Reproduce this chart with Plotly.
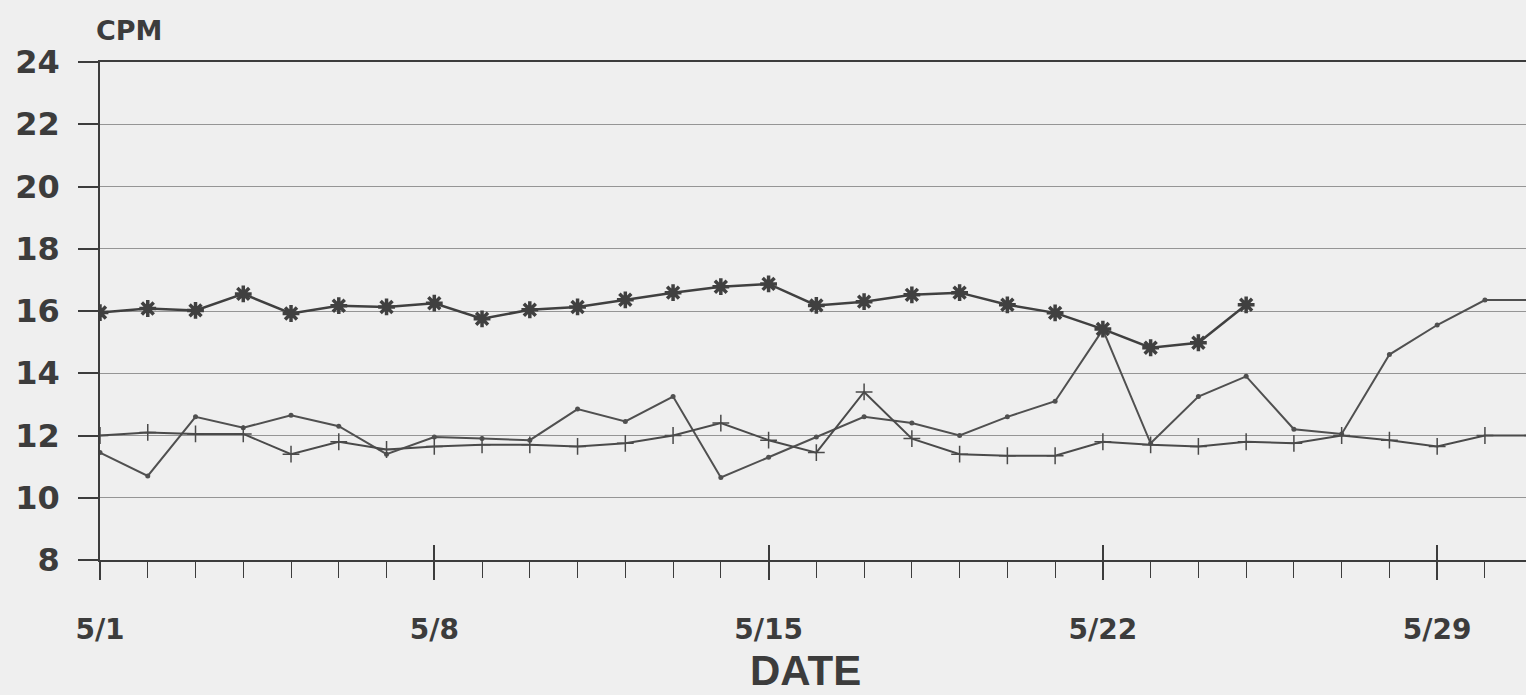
import plotly.graph_objects as go

# ---- data (day of May) ----
days = [1, 2, 3, 4, 5, 6, 7, 8, 9, 10, 11, 12, 13, 14, 15, 16, 17, 18, 19, 20,
        21, 22, 23, 24, 25, 26, 27, 28, 29, 30, 31]
star_days = [1, 2, 3, 4, 5, 6, 7, 8, 9, 10, 11, 12, 13, 14, 15, 16, 17, 18, 19, 20,
             21, 22, 23, 24, 25]
star_vals = [15.95, 16.08, 16.02, 16.55, 15.92, 16.17, 16.13, 16.25, 15.75, 16.04,
             16.13, 16.36, 16.59, 16.78, 16.87, 16.18, 16.30, 16.52, 16.59, 16.20,
             15.94, 15.42, 14.82, 14.98, 16.20]
plus_vals = [12.0, 12.1, 12.05, 12.05, 11.4, 11.8, 11.55, 11.65, 11.7, 11.7,
             11.65, 11.75, 12.0, 12.4, 11.85, 11.45, 13.4, 11.9, 11.4, 11.35,
             11.35, 11.8, 11.7, 11.65, 11.8, 11.75, 12.0, 11.85, 11.65, 12.0, 12.0]
var_vals = [11.45, 10.7, 12.6, 12.25, 12.65, 12.3, 11.4, 11.95, 11.9, 11.85,
            12.85, 12.45, 13.25, 10.65, 11.3, 11.95, 12.6, 12.4, 12.0, 12.6,
            13.1, 15.4, 11.75, 13.25, 13.9, 12.2, 12.05, 14.6, 15.55, 16.35, 16.35]
major_days = [1, 8, 15, 22, 29]
major_labels = ["5/1", "5/8", "5/15", "5/22", "5/29"]
y_ticks = [8, 10, 12, 14, 16, 18, 20, 22, 24]

INK = "#3c3c3c"
BG = "#efefef"
XR = [1, 30.86]

fig = go.Figure()
fig.add_trace(go.Scatter(x=days, y=var_vals, mode="lines+markers",
                         line=dict(color="#505050", width=2),
                         marker=dict(symbol="circle", size=5, color="#505050"),
                         showlegend=False))
fig.add_trace(go.Scatter(x=days, y=plus_vals, mode="lines+markers",
                         line=dict(color="#4a4a4a", width=2),
                         marker=dict(symbol="cross-thin-open", size=12,
                                     line=dict(color="#4a4a4a", width=1.5)),
                         showlegend=False))
fig.add_trace(go.Scatter(x=star_days, y=star_vals, mode="lines+markers",
                         line=dict(color="#404040", width=2.5),
                         marker=dict(symbol="asterisk-open", size=14,
                                     line=dict(color="#333333", width=3.5)),
                         showlegend=False))
# invisible trace to hold the overlay axis for upward major ticks
fig.add_trace(go.Scatter(x=[XR[0]], y=[8], xaxis="x2", mode="markers",
                         marker=dict(opacity=0), showlegend=False, hoverinfo="skip"))

fig.update_layout(
    width=1526, height=695,
    margin=dict(l=100, r=0, t=62, b=135),
    paper_bgcolor=BG, plot_bgcolor=BG,
    font=dict(family="DejaVu Sans", color=INK),
    xaxis=dict(range=XR, tickmode="array", tickvals=major_days, ticktext=major_labels,
               ticks="outside", ticklen=18, tickwidth=1.5, tickcolor=INK,
               tickfont=dict(family="DejaVu Sans", size=28, color=INK, weight="bold"),
               ticklabelstandoff=25,
               minor=dict(tickmode="array", tickvals=days, ticks="outside", ticklen=16,
                          tickwidth=1.2, tickcolor=INK, showgrid=False),
               showgrid=False, zeroline=False, showline=True, linecolor=INK,
               linewidth=2, mirror=True),
    xaxis2=dict(range=XR, overlaying="x", anchor="y", side="bottom",
                tickmode="array", tickvals=major_days, ticks="inside", ticklen=15,
                tickwidth=1.5, tickcolor=INK, showticklabels=False,
                showgrid=False, zeroline=False, showline=False),
    yaxis=dict(range=[8, 24], tickmode="array", tickvals=y_ticks,
               ticks="outside", ticklen=20, tickwidth=1.5, tickcolor=INK,
               tickfont=dict(family="DejaVu Sans", size=32, color=INK, weight="bold"),
               ticklabelstandoff=12,
               showgrid=True, gridcolor="#959595", gridwidth=1.2,
               zeroline=False, showline=True, linecolor=INK, linewidth=1.5),
    annotations=[
        dict(text="CPM", xref="paper", yref="paper", x=0, y=1, xanchor="left",
             yanchor="bottom", yshift=14, xshift=-6, showarrow=False,
             font=dict(family="DejaVu Sans", size=27, color=INK, weight="bold")),
        dict(text="DATE", xref="paper", yref="paper", x=(805 - 100) / 1426, y=0,
             xanchor="center", yanchor="bottom", yshift=-135, borderpad=0,
             showarrow=False,
             font=dict(family="Liberation Sans", size=42, color=INK, weight="bold")),
    ],
)

fig.write_html(
    "out.html",
    config={"displayModeBar": False},
    post_script=("document.body.style.margin='0';"
                 "document.body.style.overflow='hidden';"
                 "document.body.style.background='#efefef';"),
)
